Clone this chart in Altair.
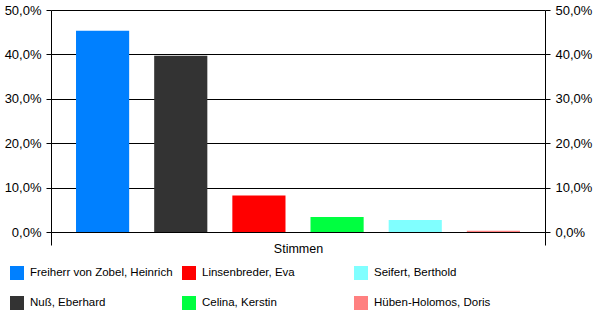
import altair as alt
import pandas as pd

# Data
candidates = [
    "Freiherr von Zobel, Heinrich",
    "Nuß, Eberhard",
    "Linsenbreder, Eva",
    "Celina, Kerstin",
    "Seifert, Berthold",
    "Hüben-Holomos, Doris",
]
shares = [0.453, 0.397, 0.082, 0.034, 0.027, 0.003]
colors = ["#0080FF", "#333333", "#FF0000", "#00FF40", "#80FFFF", "#FF8080"]
group = "Stimmen"
y_ticks = [0.0, 0.1, 0.2, 0.3, 0.4, 0.5]

df = pd.DataFrame({"gruppe": [group] * len(candidates), "kandidat": candidates, "anteil": shares})

FONT = "Liberation Sans"
label_expr = "replace(format(datum.value, '.1%'), '.', ',')"

x_enc = alt.X(
    "gruppe:N",
    scale=alt.Scale(paddingInner=0, paddingOuter=0),
    axis=alt.Axis(
        title=None, orient="bottom", tickBand="extent", tickSize=13, labelPadding=-3,
        domainColor="black", tickColor="black", labelAngle=0, grid=False,
        labelFont=FONT, labelFontSize=12.5, labelColor="black",
    ),
)
xoff_enc = alt.XOffset(
    "kandidat:N", sort=candidates,
    scale=alt.Scale(paddingInner=0.32, paddingOuter=0.32),
)
y_scale = alt.Scale(domain=[0, 0.5])

def y_axis(orient, grid):
    return alt.Axis(
        title=None, orient=orient, values=y_ticks, labelExpr=label_expr,
        tickSize=5, tickColor="black", domainColor="black", grid=grid,
        gridColor="black", gridOpacity=1, labelFont=FONT, labelFontSize=13,
        labelColor="black", labelPadding=5,
    )

base = alt.Chart(df).encode(x=x_enc, xOffset=xoff_enc)

bars = base.mark_bar().encode(
    y=alt.Y("anteil:Q", scale=y_scale, axis=y_axis("left", True)),
    color=alt.Color(
        "kandidat:N",
        scale=alt.Scale(domain=candidates, range=colors),
        legend=alt.Legend(
            title=None, orient="none", legendX=-41, legendY=256, columns=3,
            gridAlign="all", symbolType="square", symbolSize=196,
            symbolStrokeWidth=0, labelFont=FONT, labelFontSize=11.5,
            labelColor="black", labelOffset=6, rowPadding=16, columnPadding=9,
            padding=0,
        ),
    ),
)

right = base.mark_bar(opacity=0).encode(
    y=alt.Y("anteil:Q", scale=y_scale, axis=y_axis("right", False)),
)

chart = (
    alt.layer(bars, right)
    .resolve_scale(y="independent")
    .properties(
        width=494, height=222,
        autosize=alt.AutoSizeParams(type="none"),
        padding={"left": 51, "top": 10, "right": 55, "bottom": 94},
    )
    .configure_view(stroke=None)
)

chart.save("out.html", embed_options={"renderer": "svg", "actions": False})
